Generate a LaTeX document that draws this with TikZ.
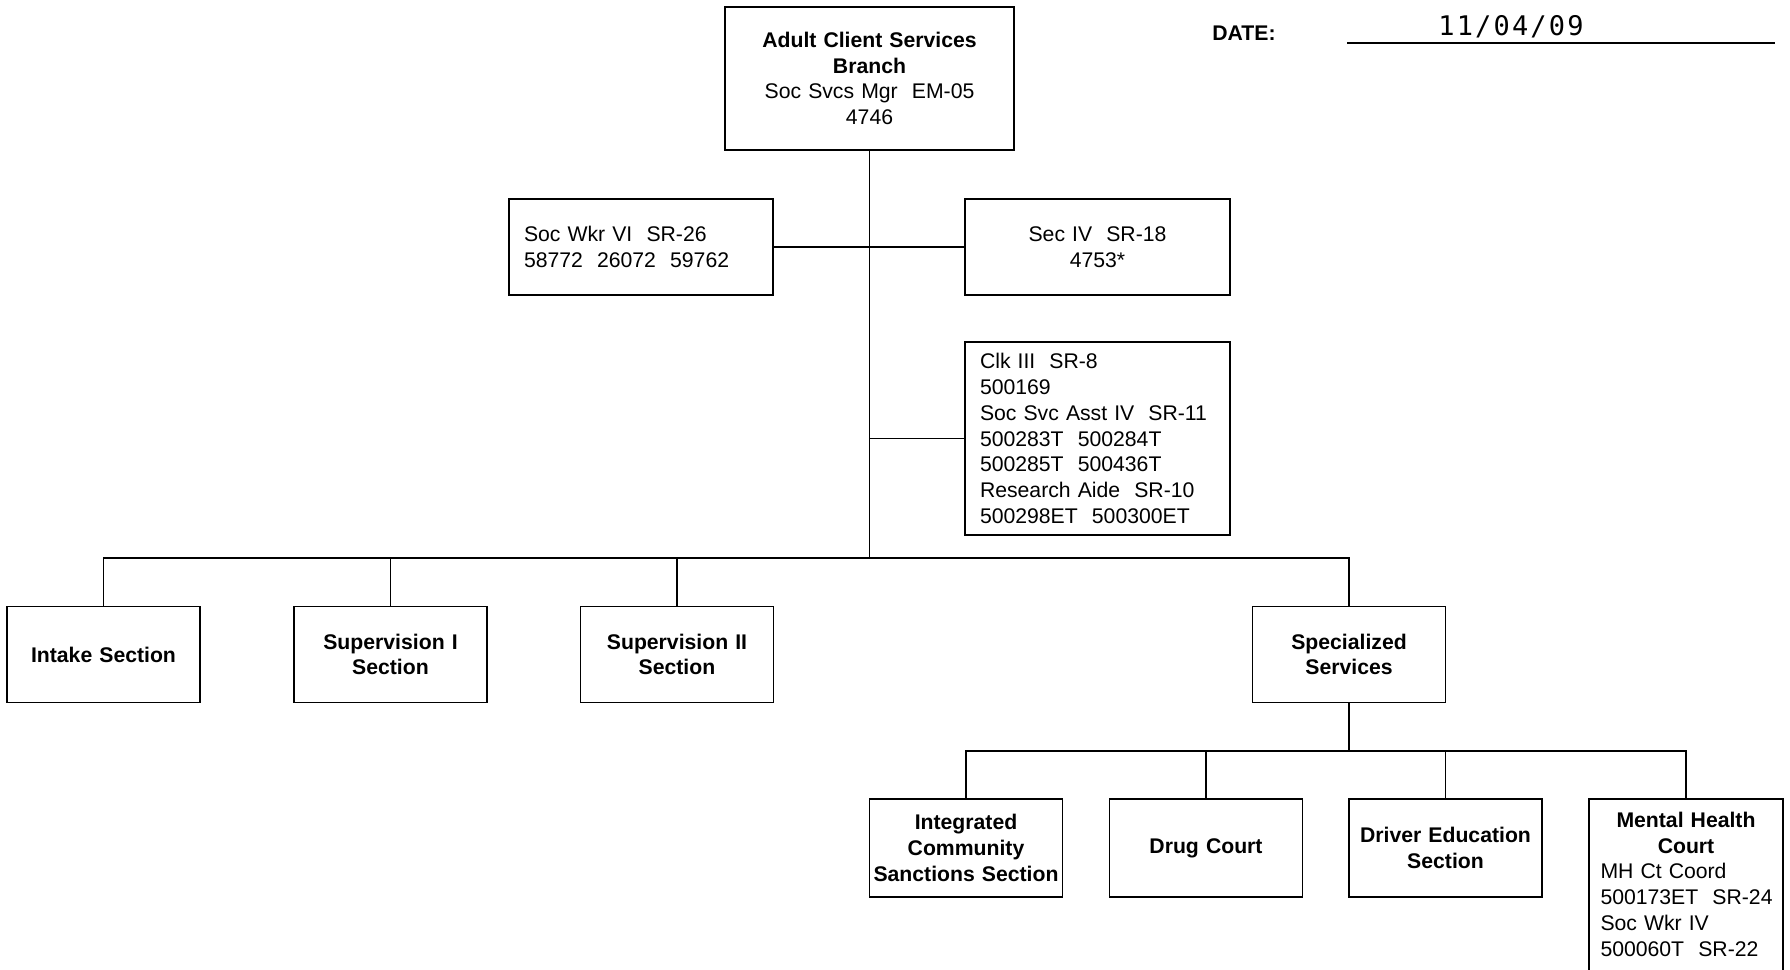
\documentclass[tikz,border=0pt]{standalone}
\usepackage{fontspec}
\setmainfont{Liberation Sans}
\newfontfamily\datemono{DejaVu Sans Mono}[LetterSpace=8]
\newcommand\fs{\fontsize{21.2}{25.7}\selectfont}
\begin{document}
\begin{tikzpicture}[x=1pt,y=-1pt,
  box/.style={draw, line width=1.8pt, inner xsep=15pt, inner ysep=0pt, font=\fs},
  sect/.style={draw, line width=1.8pt, inner xsep=4pt, inner ysep=0pt, text width=185pt,
    minimum height=96pt, align=center, font=\fs\bfseries},
  conn/.style={line width=1.2pt},
  ]
\fill[white] (0,0) rectangle (1790,969);
\useasboundingbox (0,0) rectangle (1790,969);

% top
\node[box, minimum height=143pt, text width=259pt, align=center] (top) at (869.5,78.5)
  {\textbf{Adult Client Services}\\\textbf{Branch}\\Soc Svcs Mgr~~EM-05\\4746};

% date
\node[font=\fs\bfseries] (date) at (1244,33) {DATE:};
\node[font=\datemono\fontsize{27}{30}\selectfont] (dval) at (1511,26.5) {11/04/09};
\coordinate (ul1) at (1347,43);
\coordinate (ul2) at (1775,43);
\draw[line width=2pt] (ul1) -- (ul2);

% staff
\node[box, minimum height=96pt, text width=234pt, align=left] (swk) at (641,247)
  {Soc Wkr VI~~SR-26\\58772~~26072~~59762};
\node[box, minimum height=96pt, text width=235pt, align=center] (sec) at (1097.5,247)
  {Sec IV~~SR-18\\4753*};
\node[box, minimum height=193pt, text width=235pt, align=left] (clk) at (1097.5,438.5)
  {Clk III~~SR-8\\500169\\Soc Svc Asst IV~~SR-11\\500283T~~500284T\\500285T~~500436T\\Research Aide~~SR-10\\500298ET~~500300ET};

% sections
\node[sect] (intake) at (103.5,654.5) {Intake Section};
\node[sect] (sup1) at (390.5,654.5) {Supervision I\\Section};
\node[sect] (sup2) at (677,654.5) {Supervision II\\Section};
\node[sect] (spec) at (1349,654.5) {Specialized\\Services};

% specialized units
\node[sect, minimum height=98pt] (ics) at (966,848) {Integrated\\Community\\Sanctions Section};
\node[sect, minimum height=98pt] (drug) at (1206,848) {Drug Court};
\node[sect, minimum height=98pt] (driver) at (1445.5,848) {Driver Education\\Section};
\node[font=\fs, text width=171pt, inner xsep=11pt, inner ysep=13pt, anchor=north, align=left] (mhc) at (1686,799)
  {{\centering\bfseries Mental Health\\Court\par}\mbox{MH Ct Coord}\\\mbox{500173ET~~SR-24}\\\mbox{Soc Wkr IV}\\\mbox{500060T~~SR-22}};
\draw[line width=1.8pt] (mhc.north west) ++(0,250) -- (mhc.north west) -- (mhc.north east) -- ++(0,250);

% connectors
\coordinate (bus) at (0,558);
\coordinate (bus2) at (0,751);
\draw[conn] (top.south) -- (top.south |- bus);
\draw[conn] (swk.east) -- (sec.west);
\draw[conn] (clk.west) -- (clk.west -| top.south);
\draw[conn] (intake.north) |- (spec.north |- bus) -- (spec.north);
\draw[conn] (sup1.north) -- (sup1.north |- bus);
\draw[conn] (sup2.north) -- (sup2.north |- bus);
\draw[conn] (spec.south) -- (spec.south |- bus2);
\draw[conn] (ics.north) |- (mhc.north |- bus2) -- (mhc.north);
\draw[conn] (drug.north) -- (drug.north |- bus2);
\draw[conn] (driver.north) -- (driver.north |- bus2);
\end{tikzpicture}
\end{document}
